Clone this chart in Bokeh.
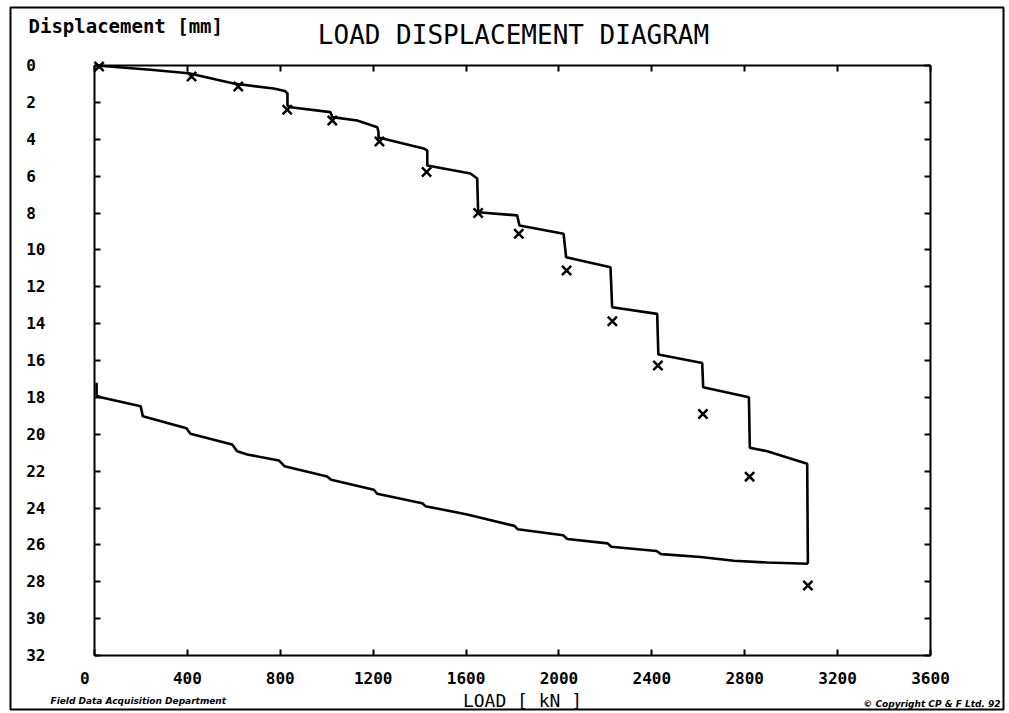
from bokeh.plotting import figure
from bokeh.models import Range1d, FixedTicker, LinearAxis, Label, BoxAnnotation
from bokeh.embed import file_html
from bokeh.resources import INLINE

# ---- data ----
x_ticks = [0, 400, 800, 1200, 1600, 2000, 2400, 2800, 3200, 3600]
y_ticks = [0, 2, 4, 6, 8, 10, 12, 14, 16, 18, 20, 22, 24, 26, 28, 30, 32]
x_lim = (0, 3600)
y_lim = (0, 32)

# loading curve (load kN, displacement mm)
load_upper = [9, 241, 405, 599, 771, 820, 831, 831, 844, 1016, 1024, 1131, 1218, 1223,
              1223, 1417, 1433, 1433, 1619, 1648, 1652, 1820, 1830, 2020, 2031, 2222,
              2229, 2423, 2428, 2617, 2621, 2818, 2822, 2897, 3069, 3072]
disp_upper = [0.0, 0.23, 0.42, 0.98, 1.25, 1.38, 1.52, 2.17, 2.26, 2.53, 2.80, 2.98, 3.35, 3.60,
              3.90, 4.50, 4.61, 5.42, 5.86, 6.13, 7.96, 8.13, 8.68, 9.13, 10.40, 10.94,
              13.11, 13.47, 15.67, 16.14, 17.45, 17.99, 20.73, 20.92, 21.60, 27.02]

# unloading curve
load_lower = [3072, 2897, 2753, 2610, 2440, 2420, 2225, 2210, 2036, 2018, 1822, 1808, 1605,
              1425, 1411, 1217, 1203, 1019, 1002, 818, 794, 658, 614, 593, 413, 396, 208,
              199, 26, 9, 9]
disp_lower = [27.02, 26.96, 26.86, 26.66, 26.50, 26.33, 26.10, 25.92, 25.68, 25.48, 25.15, 24.97,
              24.35, 23.90, 23.74, 23.23, 23.01, 22.47, 22.29, 21.73, 21.42, 21.10, 20.92,
              20.55, 19.97, 19.67, 19.03, 18.48, 17.99, 17.90, 17.20]

# measured points (x markers)
mark_load = [20, 418, 619, 830, 1024, 1227, 1430, 1652, 1827, 2033, 2230, 2426, 2620, 2821, 3072]
mark_disp = [0.05, 0.6, 1.14, 2.4, 2.98, 4.12, 5.78, 8.0, 9.13, 11.12, 13.87, 16.27, 18.9, 22.3, 28.2]

MONO = "DejaVu Sans Mono"
NBSP = "\u00a0"

# ---- layout geometry (pixels) ----
W, H = 1008, 712
BOX_L, BOX_R, BOX_T, BOX_B = 94, 930, 65, 655   # the drawn chart box
sx = (BOX_R - BOX_L) / (x_lim[1] - x_lim[0])
sy = (BOX_B - BOX_T) / (y_lim[1] - y_lim[0])
x_range = Range1d(x_lim[0] - BOX_L / sx, x_lim[1] + (W - BOX_R) / sx)
y_range = Range1d(y_lim[1] + (H - BOX_B) / sy, y_lim[0] - BOX_T / sy)

p = figure(width=W, height=H, output_backend="svg", toolbar_location=None,
           x_range=x_range, y_range=y_range,
           min_border_left=0, min_border_right=0, min_border_top=0, min_border_bottom=0)
p.grid.visible = False
p.outline_line_color = None
p.background_fill_color = "white"
p.border_fill_color = "white"

def style_axis(ax, ticks, loc, bounds, labels=True):
    ax.ticker = FixedTicker(ticks=ticks)
    ax.fixed_location = loc
    ax.bounds = bounds
    ax.major_tick_in = 6
    ax.major_tick_out = 0
    ax.major_tick_line_width = 2
    ax.major_tick_line_color = "black"
    ax.minor_tick_line_color = None
    ax.axis_line_color = "black"
    ax.axis_line_width = 2
    if labels:
        ax.major_label_text_font = MONO
        ax.major_label_text_font_size = "16px"
        ax.major_label_text_font_style = "bold"
        ax.major_label_text_color = "black"
    else:
        ax.major_label_text_font_size = "6px"
        ax.major_label_text_color = None
        ax.major_label_standoff = 0

style_axis(p.xaxis[0], x_ticks, y_lim[1], x_lim)
style_axis(p.yaxis[0], y_ticks, x_lim[0], y_lim)
p.xaxis[0].major_label_standoff = 13
p.yaxis[0].major_label_standoff = 49
# the reference prints the y labels flush left and the x "0" left of the corner
p.yaxis[0].major_label_overrides = {t: (str(t) + NBSP if t < 10 else str(t)) for t in y_ticks}
p.xaxis[0].major_label_overrides = {0: "0" + NBSP + NBSP}

top_ax = LinearAxis()
p.add_layout(top_ax, "above")
style_axis(top_ax, x_ticks, y_lim[0], x_lim, labels=False)
right_ax = LinearAxis()
p.add_layout(right_ax, "right")
style_axis(right_ax, y_ticks, x_lim[1], y_lim, labels=False)

p.line(load_upper, disp_upper, line_color="black", line_width=2.6)
p.line(load_lower, disp_lower, line_color="black", line_width=2.6)
p.scatter(mark_load, mark_disp, marker="x", size=13, line_color="black", line_width=2.5)

# outer border of the sheet
p.add_layout(BoxAnnotation(left=10, right=1003, top=7, bottom=709,
                           left_units="canvas", right_units="canvas",
                           top_units="canvas", bottom_units="canvas",
                           fill_color=None, line_color="black", line_alpha=1.0,
                           line_width=2))

def text(x, y, s, font, size, style, align):
    p.add_layout(Label(x=x, y=y, x_units="canvas", y_units="canvas", text=s,
                       text_font=font, text_font_size=size, text_font_style=style,
                       text_baseline="middle", text_align=align, text_color="black"))

text(513, 34, "LOAD DISPLACEMENT DIAGRAM", MONO, "26px", "normal", "center")
text(28, 25, "Displacement [mm]", MONO, "19px", "bold", "left")
text(522, 700, "LOAD [ kN ]", MONO, "18px", "normal", "center")
text(50, 700, "Field Data Acquisition Department", "DejaVu Sans", "9px", "bold italic", "left")
text(1000, 703, "\u00a9 Copyright CP & F Ltd. 92", "DejaVu Sans", "9px", "bold italic", "right")

open("out.html", "w").write(file_html(p, INLINE))
